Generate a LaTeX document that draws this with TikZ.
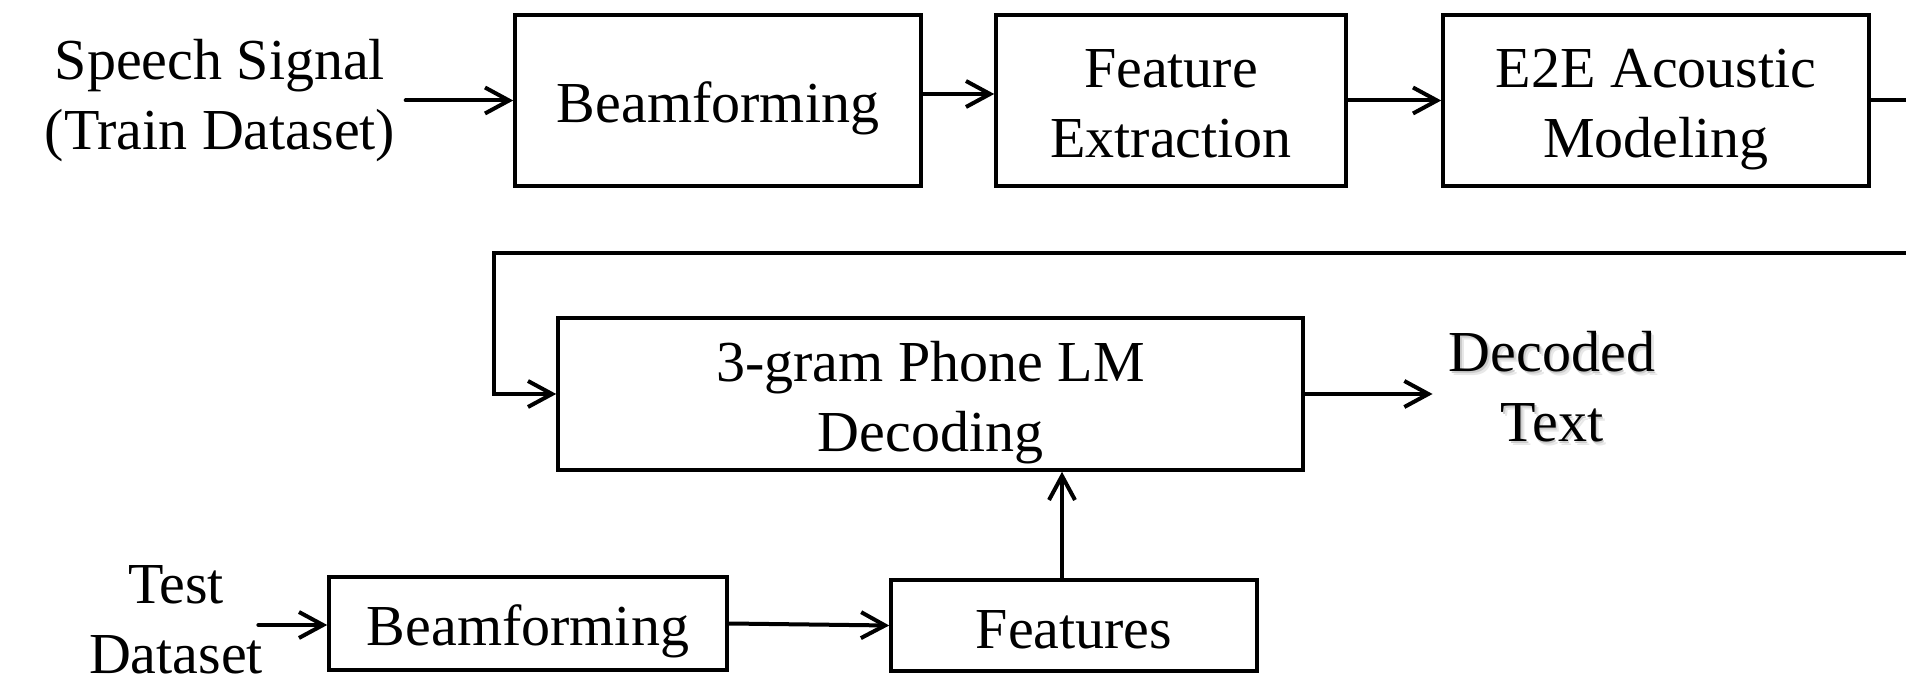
\documentclass[tikz,border=0pt]{standalone}
\usepackage{fontspec}
\setmainfont{Liberation Serif}
\usetikzlibrary{arrows.meta}
% struts that fix the first-line height and last-line depth of box texts
\newcommand{\topstrut}{\rule{0pt}{29.5pt}}
\newcommand{\botstrut}{\rule[-7pt]{0pt}{7pt}}
\begin{document}
\begin{tikzpicture}[x=0.5pt,y=-0.5pt,
  every node/.style={font=\fontsize{29pt}{35pt}\selectfont},
  blk/.style={draw, line width=1.8pt, align=center, inner sep=0pt},
  lbl/.style={align=center, inner sep=0pt},
  arr/.style={line width=2pt, line cap=round, line join=miter,
              -{Straight Barb[length=12pt,width=13pt,line width=2pt]}},
  wire/.style={line width=2pt, line join=miter}]
\useasboundingbox (0,0) rectangle (1906,683);

% training pipeline
\node[lbl, inner sep=5pt] (sp) at (220,101) {Speech Signal\\(Train Dataset)};
\node[blk, minimum width=203pt, minimum height=85.5pt] (b1) at (718,100.5) {\topstrut Beamforming\botstrut};
\node[blk, minimum width=175pt, minimum height=85.5pt] (fe) at (1171,100.5) {\topstrut Feature\\Extraction\botstrut};
\node[blk, minimum width=213pt, minimum height=85.5pt] (am) at (1656,100.5) {\topstrut E2E Acoustic\\Modeling\botstrut};
\coordinate (outR) at (1906,100.5);
\coordinate (backR) at (1906,253);
\coordinate (backL) at (494,253);

% decoding
\node[blk, minimum width=372.5pt, minimum height=76pt] (lm) at (930.5,394) {\topstrut 3-gram Phone LM\\Decoding\botstrut};
\node[lbl, inner sep=8pt, text=gray!18] (decsh2) at (1555.5,390.5) {Decoded\\Text};
\node[lbl, inner sep=8pt, text=gray!40] (decsh1) at (1553.5,389) {Decoded\\Text};
\node[lbl, inner sep=8pt] (dec) at (1552,387) {Decoded\\Text};

% test pipeline
\node[lbl] (test) at (176,620) {Test\\Dataset};
\node[blk, minimum width=199pt, minimum height=46.5pt] (b2) at (528,623.5) {\topstrut Beamforming\botstrut};
\node[blk, minimum width=183pt, minimum height=45.5pt] (ft) at (1074,625.5) {\topstrut Features\botstrut};

% connectors
\draw[arr] (sp.east |- b1.west) -- (b1.west);
\draw[arr] ([yshift=3.25pt]b1.east) -- ([yshift=3.25pt]fe.west);
\draw[arr] (fe.east) -- (am.west);
\draw[wire] (am.east) -- (outR);
\draw[arr] (backR) -- (backL) |- (lm.west);
\draw[arr] (lm.east) -- (lm.east -| dec.west);
\draw[arr] ([xshift=-2.5pt,yshift=-2.5pt]test.east) -- ([yshift=-2.5pt]test.east -| b2.west);
\draw[arr] (b2.east) -- (ft.west);
\draw[arr] ([xshift=-6pt]ft.north) -- ([xshift=-6pt]ft.north |- lm.south);
\end{tikzpicture}
\end{document}
